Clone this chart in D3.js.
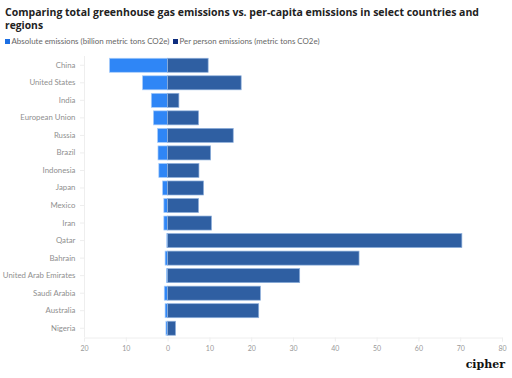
<!DOCTYPE html>
<html><head><meta charset="utf-8">
<script src="https://cdn.jsdelivr.net/npm/d3@7"></script>
<style>body{margin:0;background:#fff}svg{display:block}</style>
</head><body><svg id="c" width="512" height="378"></svg>
<script>
const categories = ["China","United States","India","European Union","Russia","Brazil","Indonesia","Japan","Mexico","Iran","Qatar","Bahrain","United Arab Emirates","Saudi Arabia","Australia","Nigeria"];
const absolute = [13.9, 6.0, 3.9, 3.4, 2.4, 2.3, 2.1, 1.2, 0.9, 0.9, 0.2, 0.6, 0.3, 0.8, 0.6, 0.4];
const perPerson = [9.7, 17.6, 2.7, 7.4, 15.7, 10.3, 7.5, 8.6, 7.4, 10.5, 70.4, 45.8, 31.6, 22.2, 21.8, 1.9];
const xTicks = [-20,-10,0,10,20,30,40,50,60,70,80];
const seriesNames = ["Absolute emissions (billion metric tons CO2e)","Per person emissions (metric tons CO2e)"];

const svg = d3.select("#c");
const font = "Lato,'Open Sans',sans-serif";
const tf = "'Open Sans',sans-serif";
svg.append("text").attr("x",5).attr("y",15.5).attr("font-family",tf).attr("font-weight",700).attr("font-size",10.6).attr("fill","#222")
  .attr("textLength",474).attr("lengthAdjust","spacingAndGlyphs")
  .text("Comparing total greenhouse gas emissions vs. per-capita emissions in select countries and");
svg.append("text").attr("x",5).attr("y",28.5).attr("font-family",tf).attr("font-weight",700).attr("font-size",10.6).attr("fill","#222")
  .attr("textLength",38).attr("lengthAdjust","spacingAndGlyphs").text("regions");

const legendColors = ["#1c6fe3","#0f2d7e"];
const legendLens = [158,140];
const lg = svg.append("g").attr("font-family",font).attr("font-size",7).attr("fill","#666");
let lx = 5;
seriesNames.forEach((n,i)=>{
  lg.append("rect").attr("x",lx).attr("y",39).attr("width",5).attr("height",5).attr("fill",legendColors[i]);
  lg.append("text").attr("x",lx+6.5).attr("y",44).attr("textLength",legendLens[i]).attr("lengthAdjust","spacingAndGlyphs").text(n);
  lx += 6.5 + legendLens[i] + 3.5;
});

const x = d3.scaleLinear().domain([-20,80]).range([84,502]);
const y = d3.scaleBand().domain(categories).range([56.5,337]).paddingInner(0.2).paddingOuter(0.1);

svg.append("line").attr("x1",84.5).attr("x2",84.5).attr("y1",56).attr("y2",337).attr("stroke","#eee");
const xa = svg.append("g").attr("transform","translate(0,337.5)").call(d3.axisBottom(x).tickValues(xTicks).tickSize(4).tickFormat(d=>Math.abs(d)));
xa.select(".domain").attr("stroke","#eee");
xa.selectAll(".tick line").attr("stroke","#eee");
xa.selectAll("text").attr("fill","#999").attr("font-family",font).attr("font-size",7).attr("dy","0.9em");

const ya = svg.append("g").attr("transform","translate(84,0)").call(d3.axisLeft(y).tickSize(4));
ya.select(".domain").remove();
ya.selectAll(".tick line").attr("stroke","#eee");
ya.selectAll("text").attr("fill","#8f8f8f").attr("font-family",font).attr("font-size",7.8).attr("dx","-0.2em");

svg.append("g").selectAll("rect").data(categories).join("rect")
  .attr("x",(d,i)=>x(-absolute[i])).attr("width",(d,i)=>x(0)-x(-absolute[i]))
  .attr("y",d=>y(d)).attr("height",y.bandwidth())
  .attr("fill","#2f86f6").attr("stroke","#a8cdfb").attr("stroke-width",0.7);
svg.append("g").selectAll("rect").data(categories).join("rect")
  .attr("x",x(0)).attr("width",(d,i)=>x(perPerson[i])-x(0))
  .attr("y",d=>y(d)).attr("height",y.bandwidth())
  .attr("fill","#2f5fa2").attr("stroke","#8fb0dc").attr("stroke-width",0.7);

svg.append("text").attr("x",505).attr("y",368).attr("text-anchor","end").attr("font-family","'DejaVu Serif',serif").attr("font-weight",700).attr("font-size",11).attr("fill","#111").text("cipher");
</script></body></html>
